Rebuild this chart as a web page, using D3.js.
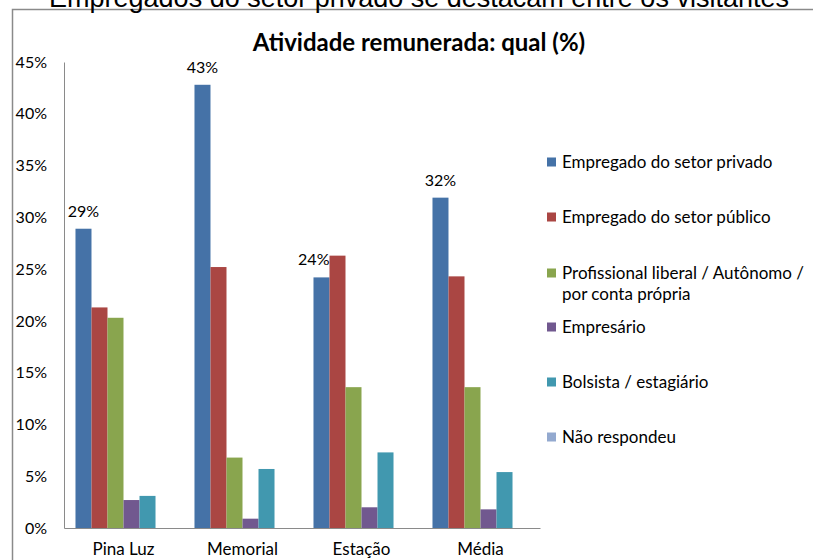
<!DOCTYPE html>
<html>
<head>
<meta charset="utf-8">
<script src="https://cdn.jsdelivr.net/npm/d3@7"></script>
<style>
  body { margin: 0; background: #fff; }
  text { font-family: Lato, "Open Sans", sans-serif; fill: #000; }
</style>
</head>
<body>
<div id="chart"></div>
<script>
var categories = ["Pina Luz", "Memorial", "Estação", "Média"];
var seriesNames = [
    "Empregado do setor privado",
    "Empregado do setor público",
    "Profissional liberal / Autônomo / por conta própria",
    "Empresário",
    "Bolsista / estagiário",
    "Não respondeu"
];
var privado  = [28.9, 42.8, 24.2, 31.9];
var publico  = [21.3, 25.2, 26.3, 24.3];
var liberal  = [20.3, 6.8, 13.6, 13.6];
var empresa  = [2.7, 0.9, 2.0, 1.8];
var bolsista = [3.1, 5.7, 7.3, 5.4];
var naoResp  = [0, 0, 0, 0];
var colors = ["#4572a7", "#aa4643", "#89a54e", "#71588f", "#4198af", "#93a9cf"];
var yTicks = [0, 5, 10, 15, 20, 25, 30, 35, 40, 45];
var legendLines = [
    ["Empregado do setor privado"],
    ["Empregado do setor público"],
    ["Profissional liberal / Autônomo /", "por conta própria"],
    ["Empresário"],
    ["Bolsista / estagiário"],
    ["Não respondeu"]
];

var allSeries = [privado, publico, liberal, empresa, bolsista, naoResp];

var width = 813, height = 560;
var margin = {top: 62, right: 273, bottom: 32, left: 64};

var svg = d3.select("#chart").append("svg")
    .attr("width", width)
    .attr("height", height);

// outer frame (runs off the right and bottom edges)
svg.append("rect")
    .attr("x", 12.5).attr("y", 9.5)
    .attr("width", 820).attr("height", 570)
    .attr("fill", "none")
    .attr("stroke", "#8a8a8a")
    .attr("stroke-width", 1.5);

// slide heading, cut by the top edge as in the original
svg.append("text")
    .attr("x", 419).attr("y", 7)
    .attr("text-anchor", "middle")
    .style("font-family", "'Liberation Sans', Arial, sans-serif")
    .style("font-size", "27px")
    .text("Empregados do setor privado se destacam entre os visitantes");

svg.append("text")
    .attr("x", 419).attr("y", 51)
    .attr("text-anchor", "middle")
    .style("font-size", "24px")
    .style("font-weight", "bold")
    .text("Atividade remunerada: qual (%)");

var x0 = d3.scaleBand()
    .domain(categories)
    .range([margin.left, width - margin.right])
    .paddingInner(0.193)
    .paddingOuter(0.0965);

var x1 = d3.scaleBand()
    .domain(d3.range(seriesNames.length))
    .range([0, x0.bandwidth()]);

var y = d3.scaleLinear()
    .domain([0, 45])
    .range([height - margin.bottom, margin.top]);

// y axis
var yAxis = svg.append("g")
    .attr("transform", "translate(" + margin.left + ",0)")
    .call(d3.axisLeft(y).tickValues(yTicks).tickSize(0).tickPadding(17)
        .tickFormat(function(d) { return d + "%"; }));
yAxis.select(".domain").attr("stroke", "#8a8a8a");
yAxis.selectAll("text").style("font-size", "16px").attr("font-family", null);

// x axis
var xAxis = svg.append("g")
    .attr("transform", "translate(0," + y(0) + ")")
    .call(d3.axisBottom(x0).tickSize(0).tickPadding(15)
        .tickSizeOuter(0));
xAxis.select(".domain").attr("stroke", "#8a8a8a");
xAxis.selectAll("text").style("font-size", "17px").attr("font-family", null);

// bars
allSeries.forEach(function(values, s) {
    svg.append("g")
        .selectAll("rect")
        .data(values)
        .enter()
        .append("rect")
        .attr("x", function(d, i) { return x0(categories[i]) + x1(s); })
        .attr("y", function(d) { return y(d); })
        .attr("width", x1.bandwidth())
        .attr("height", function(d) { return y(0) - y(d); })
        .attr("fill", colors[s]);
});

// data labels on the first series
svg.append("g")
    .selectAll("text")
    .data(privado)
    .enter()
    .append("text")
    .attr("x", function(d, i) {
        var left = x0(categories[i]) + x1(0);
        // when the next bar is taller, the label is pushed to the left
        if (publico[i] > d) return left + x1.bandwidth();
        return left + x1.bandwidth() / 2;
    })
    .attr("y", function(d) { return y(d) - 12; })
    .attr("text-anchor", function(d, i) { return publico[i] > d ? "end" : "middle"; })
    .style("font-size", "16px")
    .text(function(d) { return Math.round(d) + "%"; });

// legend
var legendY = [162, 217, 273, 327, 382, 437];
var legend = svg.append("g");
legendLines.forEach(function(lines, i) {
    legend.append("rect")
        .attr("x", 547).attr("y", legendY[i] - 4.5)
        .attr("width", 9).attr("height", 9)
        .attr("fill", colors[i]);
    lines.forEach(function(line, j) {
        legend.append("text")
            .attr("x", 562)
            .attr("y", legendY[i] + j * 21)
            .attr("dy", "0.35em")
            .style("font-size", "17px")
            .text(line);
    });
});
</script>
</body>
</html>
